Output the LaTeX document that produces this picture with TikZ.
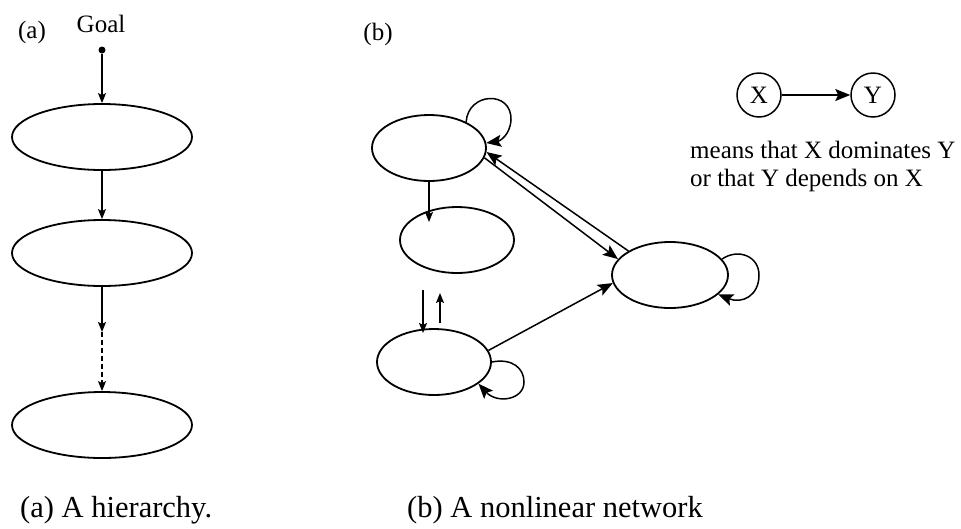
\documentclass[tikz,border=0pt]{standalone}
\usepackage{fontspec}
\setmainfont{Liberation Serif}
\usetikzlibrary{shapes.geometric,arrows.meta}
\begin{document}
\begin{tikzpicture}[x=1pt,y=-1pt,
  oval/.style={draw, ellipse, line width=1.8pt, inner sep=0pt},
  bigoval/.style={oval, minimum width=180pt, minimum height=66pt},
  netoval/.style={oval, minimum width=114pt, minimum height=66pt},
  link/.style={line width=1.5pt},
  tipS/.style={link, -{Stealth[length=10pt,width=8pt,inset=2pt]}},
  tipL/.style={link, -{Stealth[length=15pt,width=12pt,inset=3pt]}},
  lbl/.style={font=\fontsize{25}{28}\selectfont, inner sep=0pt},
  captext/.style={font=\fontsize{30.5}{36}\selectfont, inner sep=0pt, anchor=base west}]
\useasboundingbox (0,0) rectangle (961,528);

% ---- (a) hierarchy ----
\node[lbl, anchor=base] (labA) at (32,38) {(a)};
\node[lbl, anchor=base] (goalTxt) at (101,32) {Goal};
\node[circle, fill, inner sep=0pt, minimum size=7pt] (goal) at (102,50) {};
\node[bigoval] (h1) at (102,137) {};
\node[bigoval] (h2) at (102,253) {};
\node[bigoval] (h3) at (102,425) {};
\coordinate (mid) at (102,332);
\draw[tipS] (goal) -- (h1.north);
\draw[tipS] (h1.south) -- (h2.north);
\draw[tipS] (h2.south) -- (mid);
\draw[tipS, dash pattern=on 5pt off 3pt] (mid) -- (h3.north);

% ---- (b) network ----
\node[lbl, anchor=base] (labB) at (378,40) {(b)};
\node[netoval] (nA) at (429,148) {};
\node[netoval] (nB) at (457,240) {};
\node[netoval, minimum width=116pt] (nC) at (670,275) {};
\node[netoval] (nD) at (434,362) {};

% self loops
\draw[tipL] (nA.35) .. controls (468,92) and (512,90) .. (511,120)
            .. controls (510,135) and (500,141) .. (nA.5);
\draw[tipL] (nC.17) .. controls (738,248) and (759,256) .. (759,275)
            .. controls (759,296) and (742,304) .. (nC.-22);
\draw[tipL] (nD.east) .. controls (512,358) and (524,368) .. (524,382)
            .. controls (524,400) and (497,404) .. (nD.-26);

% A to B
\coordinate (bIn) at (429,222);
\draw[tipS] (nA.south) -- (bIn);

% A and C, both ways
\draw[tipL] (nC.150) -- (nA.-4);
\draw[tipL] (nA.-10) -- (nC.163);

% D to C
\draw[tipL] (nD.12) -- (nC.188);

% free arrows above D
\coordinate (dnS) at (423,290);
\coordinate (dnE) at (423,333);
\coordinate (upS) at (440,323);
\coordinate (upE) at (440,293);
\draw[tipS] (dnS) -- (dnE);
\draw[tipS] (upS) -- (upE);

% ---- legend ----
\node[lbl, draw, circle, line width=1.5pt, minimum size=44pt] (X) at (759,95) {X};
\node[lbl, draw, circle, line width=1.5pt, minimum size=44pt] (Y) at (873,95) {Y};
\draw[tipL] (X) -- (Y);
\node[lbl, anchor=base west] (m1) at (690,158) {means that X dominates Y};
\node[lbl, anchor=base west] (m2) at (690,186) {or that Y depends on X};

% ---- captions ----
\node[captext] (capA) at (20,517) {(a) A hierarchy.};
\node[captext] (capB) at (407,517) {(b) A nonlinear network};
\end{tikzpicture}
\end{document}
